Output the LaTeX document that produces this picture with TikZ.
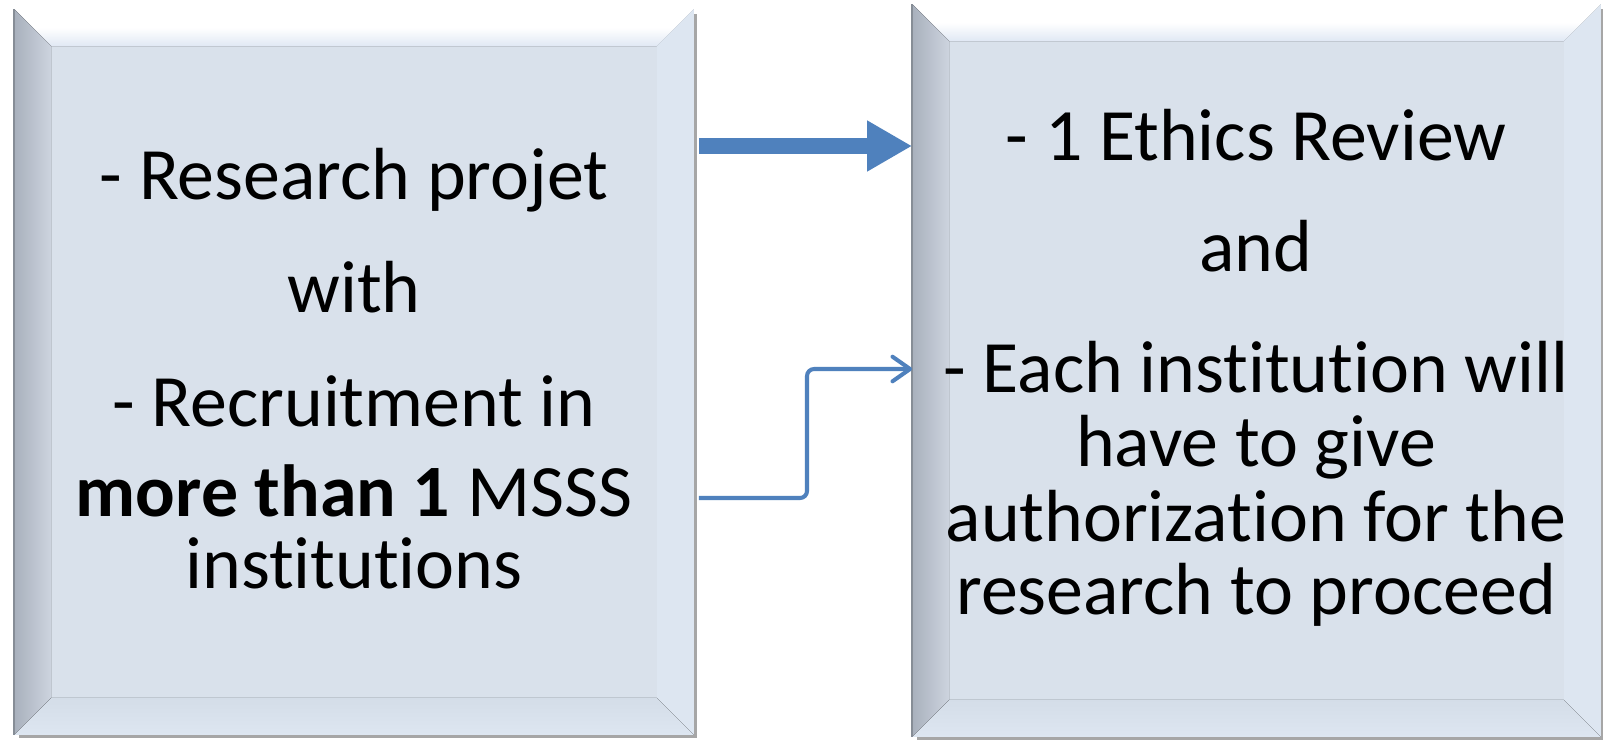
\documentclass[tikz,border=0pt]{standalone}
\usepackage{fontspec}
\setmainfont{Carlito}[RawFeature={-liga;-clig;-calt;-rlig;-dlig}]
\usetikzlibrary{arrows.meta,positioning,calc,shadows}
\definecolor{BevFace}{HTML}{D9E1EB}
\definecolor{BevTop}{HTML}{E0E8F4}
\definecolor{BevDark}{HTML}{A8B0BC}
\definecolor{BevLeft}{HTML}{CDD4DF}
\definecolor{BevRight}{HTML}{DDE6F1}
\definecolor{BevBottom}{HTML}{D4DDE8}
\definecolor{ArrBlue}{HTML}{4F81BD}

\begin{document}
\begin{tikzpicture}[x=0.01cm,y=-0.01cm,
    bevbox/.style={rectangle,fill=BevFace,inner sep=0pt,
      drop shadow={shadow xshift=1.2pt,shadow yshift=-1.2pt,opacity=0.35,fill=black}},
    linetxt/.style={anchor=base,inner sep=0pt,font=\fontsize{21}{21}\selectfont},
    fatarrow/.style={ArrBlue,line width=4.45pt,-{Triangle[length=12.8pt,width=13.6pt]}},
    elbarrow/.style={ArrBlue,line width=1.15pt,rounded corners=2,-{Straight Barb[length=5pt,width=7pt,round]}}]
    \fill[white] (0,0) rectangle (1603,739);
    \useasboundingbox (0,0) rectangle (1603,739);
    % the two bevelled boxes
    \node[bevbox,minimum width=6.78cm,minimum height=7.24cm] (lbox) at (354,372) {};
    \node[bevbox,minimum width=6.87cm,minimum height=7.31cm] (rbox) at (1256.5,370.5) {};
    \foreach \b in {lbox,rbox}{
      \fill[top color=white,bottom color=BevTop,middle color=white] (\b.north west) -- (\b.north east) -- ($(\b.north east)+(-37,37)$) -- ($(\b.north west)+(37,37)$) -- cycle;
      \fill[left color=BevDark,right color=BevLeft] (\b.north west) -- ($(\b.north west)+(37,37)$) -- ($(\b.south west)+(37,-37)$) -- (\b.south west) -- cycle;
      \fill[BevRight] (\b.north east) -- ($(\b.north east)+(-37,37)$) -- ($(\b.south east)+(-37,-37)$) -- (\b.south east) -- cycle;
      \fill[top color=BevBottom,bottom color=BevRight] (\b.south west) -- ($(\b.south west)+(37,-37)$) -- ($(\b.south east)+(-37,-37)$) -- (\b.south east) -- cycle;
      \draw[BevDark!80!black,line width=0.6pt] (\b.north west) -- (\b.south west);
    }
    % texts
    \foreach \n/\y/\t in {1/199/{- Research projet},2/312/{with},3/426/{- Recruitment in},4/516/{\textbf{more than 1} MSSS},5/588/{institutions}}
      \node[linetxt] (ltxt\n) at (354,\y) {\t};
    \foreach \n/\y/\t in {1/160/{- 1 Ethics Review},2/271/{and},3/392/{- Each institution will},4/466/{have to give},5/541/{authorization for the},6/614/{research to proceed}}
      \node[linetxt] (rtxt\n) at (1256,\y) {\t};
    % arrows
    \coordinate (fatlevel) at (0,146);
    \coordinate (elbstart) at ($(lbox.east |- 0,498)+(5,0)$);
    \coordinate (elbknee) at (807,369);
    \draw[fatarrow] ($(lbox.east |- fatlevel)+(5,0)$) -- (rbox.west |- fatlevel);
    \draw[elbarrow] (elbstart) -- (elbstart -| elbknee) -- (elbknee) -- (rbox.west |- elbknee);
\end{tikzpicture}
\end{document}
